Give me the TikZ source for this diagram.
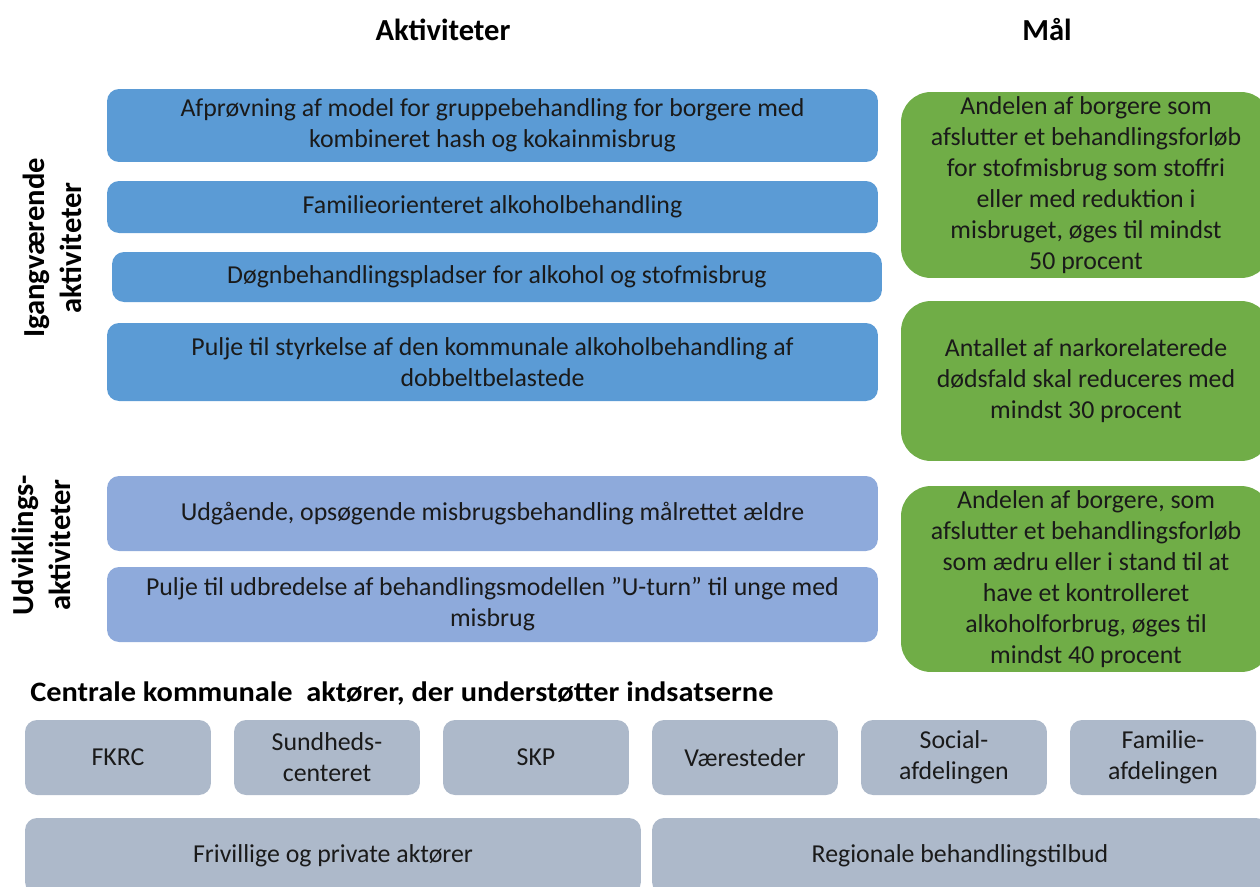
\documentclass[tikz,border=0pt]{standalone}
\usepackage{fontspec}
\setmainfont{Carlito}
\newfontfamily\wideboldfont[FakeStretch=1.08]{Carlito}
\definecolor{actblue}{HTML}{5B9BD5}
\definecolor{devblue}{HTML}{8EAADB}
\definecolor{goalgreen}{HTML}{70AD47}
\definecolor{actorgray}{HTML}{ADB9CA}
\definecolor{inktext}{HTML}{1A1A1A}
\begin{document}
\begin{tikzpicture}[x=0.02cm,y=-0.02cm,
  box/.style={inner sep=0pt, align=center, text=inktext,
    font=\fontsize{14.7}{17.6}\selectfont},
  actbox/.style={box, fill=actblue, rounded corners=0.24cm, minimum width=15.42cm},
  devbox/.style={box, fill=devblue, rounded corners=0.24cm, minimum width=15.42cm},
  goalbox/.style={box, fill=goalgreen, rounded corners=0.6cm, minimum width=7.4cm},
  actorbox/.style={box, fill=actorgray, rounded corners=0.24cm},
  heading/.style={inner sep=0pt, text=black, font=\bfseries\fontsize{17.4}{20}\selectfont},
  sidelabel/.style={inner sep=0pt, text=black, align=center, rotate=90,
    font=\bfseries\fontsize{17.4}{21}\selectfont}]
\useasboundingbox (0,0) rectangle (1260,886);
\clip (0,0) rectangle (1260,886);

% column headings
\node[heading] (hAct) at (443,30) {Aktiviteter};
\node[heading] (hGoal) at (1047,30) {Mål};

% side labels
\node[sidelabel] (lOngoing) at (52,248) {Igangværende\\aktiviteter};
\node[sidelabel] (lDev) at (41,545) {Udviklings-\\aktiviteter};

% ongoing activities
\node[actbox, minimum height=1.46cm] (a1) at (492.5,125.5)
  {Afprøvning af model for gruppebehandling for borgere med\\kombineret hash og kokainmisbrug};
\node[actbox, minimum height=1.04cm] (a2) at (492.5,207)
  {Familieorienteret alkoholbehandling};
\node[actbox, minimum height=1.0cm, minimum width=15.4cm] (a3) at (497,277)
  {Døgnbehandlingspladser for alkohol og stofmisbrug};
\node[actbox, minimum height=1.56cm] (a4) at (492.5,362)
  {Pulje til styrkelse af den kommunale alkoholbehandling af\\dobbeltbelastede};

% development activities
\node[devbox, minimum height=1.5cm] (d1) at (492.5,513.5)
  {Udgående, opsøgende misbrugsbehandling målrettet ældre};
\node[devbox, minimum height=1.5cm] (d2) at (492.5,604.5)
  {Pulje til udbredelse af behandlingsmodellen ”U-turn” til unge med\\misbrug};

% goals
\node[goalbox, minimum height=3.72cm] (g1) at (1086,185)
  {Andelen af borgere som\\afslutter et behandlingsforløb\\for stofmisbrug som stoffri\\eller med reduktion i\\misbruget, øges til mindst\\50 procent};
\node[goalbox, minimum height=3.2cm] (g2) at (1086,381)
  {Antallet af narkorelaterede\\dødsfald skal reduceres med\\mindst 30 procent};
\node[goalbox, minimum height=3.72cm] (g3) at (1086,579)
  {Andelen af borgere, som\\afslutter et behandlingsforløb\\som ædru eller i stand til at\\have et kontrolleret\\alkoholforbrug, øges til\\mindst 40 procent};

% supporting actors
\node[heading, anchor=west, font=\wideboldfont\bfseries\fontsize{16}{20}\selectfont] (hActors) at (30,694)
  {Centrale kommunale\ \ aktører, der understøtter indsatserne};

\node[actorbox, minimum width=3.72cm, minimum height=1.5cm] (p1) at (118,757.5) {FKRC};
\node[actorbox, minimum width=3.72cm, minimum height=1.5cm] (p2) at (327,757.5) {Sundheds-\\centeret};
\node[actorbox, minimum width=3.72cm, minimum height=1.5cm] (p3) at (536,757.5) {SKP};
\node[actorbox, minimum width=3.72cm, minimum height=1.5cm] (p4) at (745,757.5) {Væresteder};
\node[actorbox, minimum width=3.72cm, minimum height=1.5cm] (p5) at (954,757.5) {Social-\\afdelingen};
\node[actorbox, minimum width=3.72cm, minimum height=1.5cm] (p6) at (1163,757.5) {Familie-\\afdelingen};

\node[actorbox, minimum width=12.32cm, minimum height=1.52cm] (q1) at (333,856) {Frivillige og private aktører};
\node[actorbox, minimum width=12.32cm, minimum height=1.52cm] (q2) at (960,856) {Regionale behandlingstilbud};
\end{tikzpicture}
\end{document}
